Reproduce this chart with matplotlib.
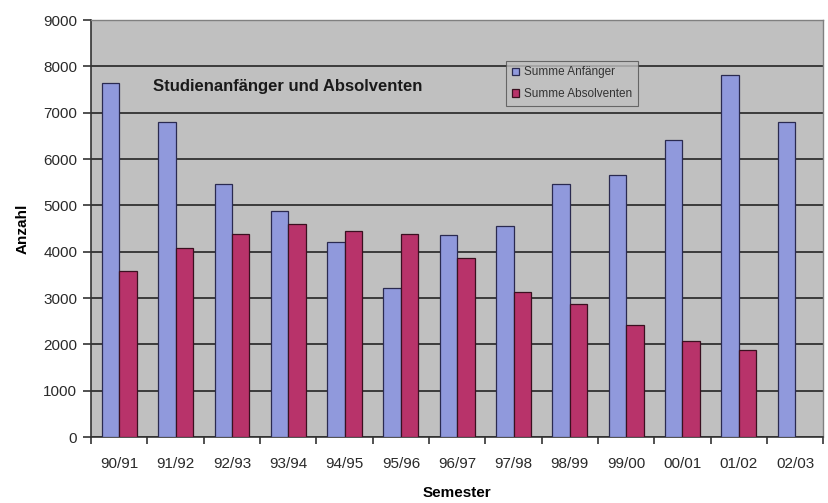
import numpy as np
import matplotlib.pyplot as plt
from matplotlib.ticker import FixedLocator

plt.rcParams['font.family'] = ['Liberation Sans', 'DejaVu Sans']

semester = ['90/91', '91/92', '92/93', '93/94', '94/95', '95/96', '96/97',
            '97/98', '98/99', '99/00', '00/01', '01/02', '02/03']
anfaenger = [7650, 6800, 5470, 4880, 4210, 3220, 4370, 4550, 5470, 5650, 6420, 7820, 6800]
# no graduates recorded yet for 02/03
absolventen = [3580, 4090, 4390, 4590, 4450, 4380, 3870, 3130, 2880, 2430, 2080, 1880, np.nan]

fig = plt.figure(figsize=(8.29, 5.03), dpi=100)
ax = fig.add_axes([0.110, 0.131, 0.883, 0.829])
ax.set_facecolor('#c0c0c0')

x = np.arange(len(semester))
w = 0.31
ax.bar(x - w / 2, anfaenger, w, color='#9099dc', edgecolor='#2a2a50', linewidth=0.9,
       label='Summe Anfänger', zorder=3)
ax.bar(x + w / 2, absolventen, w, color='#b8336a', edgecolor='#3a1020', linewidth=0.9,
       label='Summe Absolventen', zorder=3)

ax.set_xlim(-0.5, len(semester) - 0.5)
ax.set_ylim(0, 9000)
ax.set_yticks(np.arange(0, 9001, 1000))
ax.yaxis.grid(True, color='#303030', linewidth=1.3, zorder=1)

# labels at category centres, tick marks on category boundaries
ax.set_xticks(x)
ax.set_xticklabels(semester)
ax.xaxis.set_minor_locator(FixedLocator(np.arange(-0.5, len(semester), 1.0)))
ax.tick_params(axis='x', which='major', length=0, pad=14, labelsize=11, colors='#2a2a2a')
ax.tick_params(axis='x', which='minor', length=5, width=1.2, color='#333333')
ax.tick_params(axis='y', length=6, width=1.2, color='#333333', labelsize=11,
               labelcolor='#2a2a2a', pad=4)

for side in ['top', 'right']:
    ax.spines[side].set_color('#808080')
    ax.spines[side].set_linewidth(1.0)
for side in ['left', 'bottom']:
    ax.spines[side].set_color('#333333')
    ax.spines[side].set_linewidth(1.2)

ax.set_xlabel('Semester', fontsize=11, fontweight='bold', labelpad=11)
ax.set_ylabel('Anzahl', fontsize=11, fontweight='bold', labelpad=10)

ax.text(0.085, 0.84, 'Studienanfänger und Absolventen', transform=ax.transAxes,
        fontsize=12, fontweight='bold', color='#1a1a1a', va='center')

leg = ax.legend(loc='upper left', bbox_to_anchor=(0.567, 0.903), fontsize=8.5,
                frameon=True, fancybox=False, handlelength=0.6, handleheight=0.6,
                handletextpad=0.4, borderpad=0.5, labelspacing=0.8, borderaxespad=0)
leg.get_frame().set_facecolor('#c0c0c0')
leg.get_frame().set_edgecolor('#505050')
leg.get_frame().set_linewidth(0.8)
for t in leg.get_texts():
    t.set_color('#333333')

fig.savefig('out.png', dpi=100)
